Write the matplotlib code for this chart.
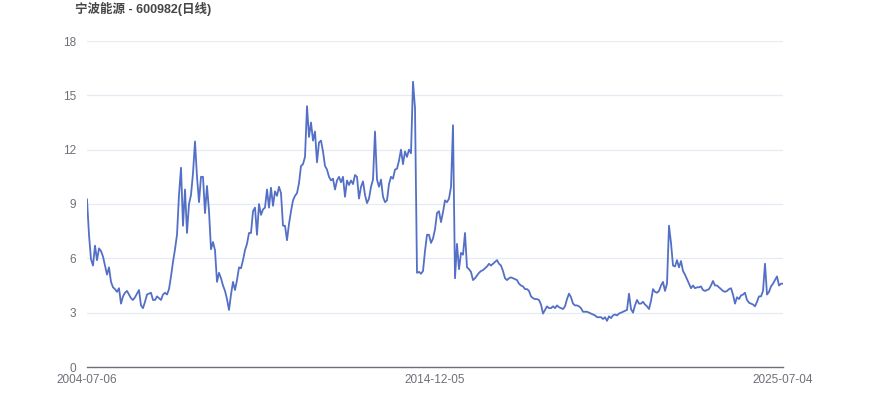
import numpy as np
import matplotlib
matplotlib.use("Agg")
import matplotlib.pyplot as plt

plt.rcParams["font.family"] = ["Liberation Sans", "Noto Sans CJK SC", "DejaVu Sans"]

# =========================
# Data (evenly spaced samples)
# =========================
TITLE = "宁波能源 - 600982(日线)"
X_LABELS = ["2004-07-06", "2014-12-05", "2025-07-04"]
Y_TICKS = [0, 3, 6, 9, 12, 15, 18]

close_2004_2007 = [
    9.25, 7.3, 5.95, 5.6, 6.7, 5.9, 6.55, 6.4, 6.1, 5.6, 5.1, 5.5, 4.7, 4.4, 4.3, 4.15,
    4.35, 3.5, 3.9, 4.1, 4.2, 4.0, 3.8, 3.7, 3.85, 4.05, 4.25, 3.4, 3.25, 3.6, 4.0, 4.05,
    4.1, 3.7, 3.7, 3.9, 3.8, 3.7, 4.0, 4.1, 4.0, 4.3, 5.0, 5.8, 6.5, 7.3, 9.5, 11.0,
    7.8, 9.8, 7.4, 9.0, 9.5, 10.7, 12.45, 10.5, 9.1, 10.5, 10.5, 8.5, 10.0, 8.6, 6.5, 6.9,
    6.45, 4.7, 5.2, 4.9, 4.5, 4.2, 3.75, 3.15, 4.0, 4.7, 4.25, 4.8, 5.5, 5.45, 5.9, 6.45,
    6.8, 7.4,
]
close_2009_2014 = [
    7.4, 8.6, 8.8, 7.3, 9.0, 8.4, 8.7, 8.8, 9.8, 8.8, 9.9, 8.9, 9.7, 9.45, 9.95, 9.6,
    7.8, 7.8, 7.0, 7.9, 8.6, 9.2, 9.45, 9.6, 10.15, 11.1, 11.2, 11.6, 14.4, 12.7, 13.5, 12.5,
    13.0, 11.3, 12.4, 12.5, 11.9, 11.1, 10.9, 10.5, 10.3, 10.4, 9.8, 10.3, 10.5, 10.2, 10.5, 9.4,
    10.3, 10.05, 10.3, 10.1, 10.6, 10.5, 9.3, 9.95, 10.25, 9.5, 9.05, 9.3, 9.95, 10.35, 13.0, 10.35,
    9.95, 10.35, 9.4, 9.1, 9.2, 10.1, 10.5, 10.4, 10.9, 10.95, 11.4, 12.0, 11.2, 11.9, 11.6, 12.0,
    11.8, 15.75, 14.3,
]
close_2014_2019 = [
    5.2, 5.25, 5.15, 5.3, 6.4, 7.3, 7.3, 6.85, 7.1, 7.6, 8.5, 8.6, 8.0, 8.55, 9.2, 9.1,
    9.3, 9.95, 13.35, 4.9, 6.8, 5.4, 6.3, 6.2, 7.4, 5.5, 5.4, 5.25, 4.8, 4.9, 5.05, 5.2,
    5.3, 5.35, 5.45, 5.55, 5.7, 5.6, 5.7, 5.8, 5.9, 5.7, 5.6, 5.3, 4.9, 4.8, 4.9, 4.95,
    4.9, 4.85, 4.8, 4.6, 4.5, 4.45, 4.3, 4.3, 4.2, 3.9, 3.8, 3.75, 3.75, 3.7, 3.45, 2.95,
    3.15, 3.35, 3.25, 3.25, 3.35, 3.25, 3.4, 3.3, 3.25, 3.2, 3.35, 3.75, 4.05, 3.85, 3.5, 3.4,
    3.4, 3.35, 3.25, 3.05, 3.05, 3.05, 3.0, 2.95, 2.9,
]
close_2020_2025 = [
    2.85, 2.75, 2.75, 2.75, 2.65, 2.75, 2.55, 2.8, 2.7, 2.85, 2.9, 2.85, 2.95, 3.0, 3.05, 3.1,
    3.15, 4.05, 3.2, 3.0, 3.4, 3.7, 3.5, 3.5, 3.6, 3.45, 3.35, 3.2, 3.65, 4.3, 4.15, 4.1,
    4.2, 4.5, 4.7, 4.2, 4.6, 7.8, 6.85, 5.6, 5.55, 5.9, 5.5, 5.85, 5.3, 5.1, 4.85, 4.6,
    4.35, 4.5, 4.35, 4.4, 4.4, 4.45, 4.25, 4.2, 4.25, 4.3, 4.5, 4.75, 4.5, 4.5, 4.4, 4.3,
    4.2, 4.15, 4.2, 4.3, 4.35, 4.0, 3.5, 3.85, 3.75, 3.95, 4.0, 4.1, 3.7, 3.55, 3.5, 3.45,
    3.35, 3.6, 3.9, 3.9, 4.2, 5.7, 4.0, 4.15, 4.45, 4.6, 4.8, 5.0, 4.5, 4.6, 4.6,
]

close = close_2004_2007 + close_2009_2014 + close_2014_2019 + close_2020_2025


# =========================
# Plot
# =========================
def make_figure(out_path):
    fig = plt.figure(figsize=(8.7, 4.17), dpi=100)
    ax = fig.add_axes([87 / 870, 1 - 367 / 417, (783 - 87) / 870, (367 - 41) / 417])

    x = np.arange(len(close))
    ax.plot(x, close, color="#5470c6", linewidth=1.3, solid_joinstyle="round")

    ax.set_xlim(0, len(close) - 1)
    ax.set_ylim(0, 18)
    ax.set_yticks(Y_TICKS)
    ax.set_yticklabels([str(t) for t in Y_TICKS])
    ax.set_xticks([0, (len(close) - 1) / 2, len(close) - 1])
    ax.set_xticklabels(X_LABELS)

    ax.grid(axis="y", color="#E6EAF2", linewidth=0.9)
    ax.set_axisbelow(True)
    for side in ["top", "right", "left"]:
        ax.spines[side].set_visible(False)
    ax.spines["bottom"].set_color("#6E7079")
    ax.spines["bottom"].set_linewidth(1.0)

    ax.tick_params(axis="both", length=0, labelsize=8.5, colors="#6E7079")
    ax.tick_params(axis="y", pad=8)
    ax.tick_params(axis="x", pad=5)

    fig.text(75 / 870, 1 - 9 / 417, TITLE, fontsize=9, fontweight="bold",
             color="#464646", ha="left", va="center")

    fig.savefig(out_path, dpi=100)
    plt.close(fig)


if __name__ == "__main__":
    make_figure("out.png")
